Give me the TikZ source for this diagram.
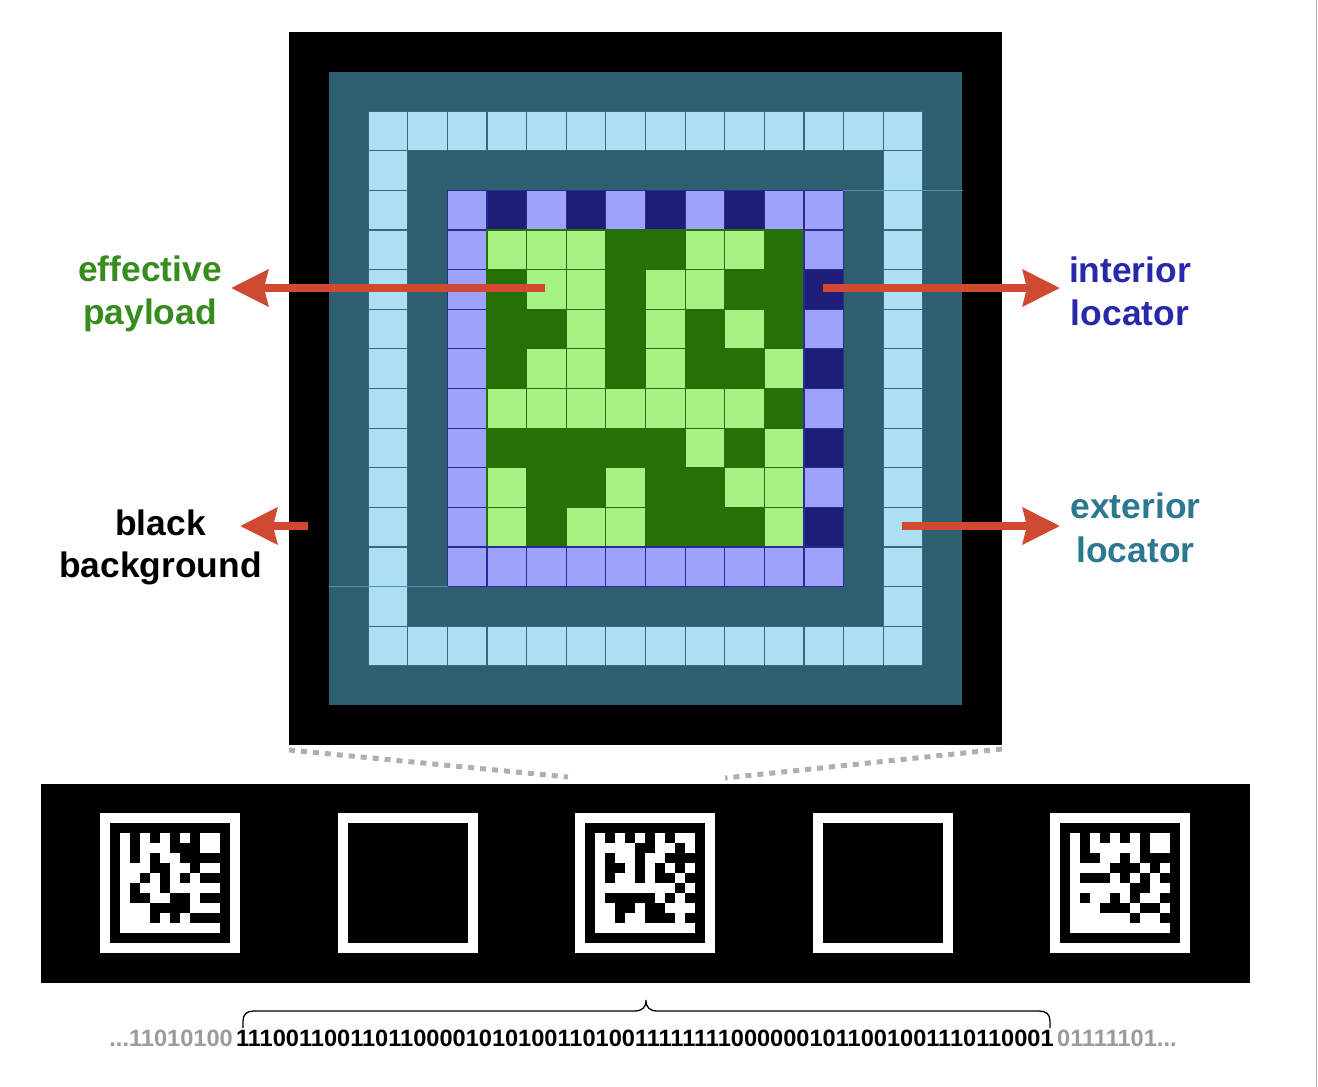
\documentclass[tikz,border=0pt]{standalone}
\usepackage{fontspec}
\setmainfont{Liberation Sans}
\usetikzlibrary{arrows.meta}
\definecolor{lblue}{RGB}{173,223,242}
\definecolor{teal1}{RGB}{45,95,113}
\definecolor{tealedge}{RGB}{58,104,122}
\definecolor{lpurp}{RGB}{158,162,250}
\definecolor{navy1}{RGB}{30,30,120}
\definecolor{purpedge}{RGB}{42,42,150}
\definecolor{lgreen}{RGB}{166,242,133}
\definecolor{dgreen}{RGB}{37,112,7}
\definecolor{arrred}{RGB}{207,74,48}
\definecolor{labgreen}{RGB}{55,140,30}
\definecolor{labblue}{RGB}{40,40,170}
\definecolor{labteal}{RGB}{45,120,145}
\definecolor{bitgray}{RGB}{155,155,155}
\definecolor{dotgray}{RGB}{175,175,175}
\definecolor{artline}{RGB}{80,150,175}
\newcommand\gcell[3]{\draw[#3] ({289+(#1)*39.61},{32+(#2)*39.61}) rectangle ++(39.61,39.61);}
\newcommand\drawmarker[2]{%
  \fill[white] (#1,813) rectangle ++(140,140);
  \fill[black] ({#1+10},823) rectangle ++(120,120);
  \foreach \row [count=\ri from 0] in #2 {
    \foreach \v [count=\ci from 0] in \row {
      \ifnum\v=1 \fill[white] ({#1+20+\ci*10},{833+\ri*10}) rectangle ++(10.3,10.3);\fi
    }
  }
}
\def\mA{{1,0,1,0,1,0,1,0,1,1},{1,0,1,1,1,0,0,0,1,1},{1,0,1,0,1,1,0,0,0,0},{1,1,1,0,0,1,1,0,1,1},{1,1,0,1,0,1,0,1,0,0},{1,0,1,1,0,1,1,1,1,1},{1,0,0,1,1,0,0,1,0,0},{1,1,1,0,0,0,0,1,1,1},{1,1,1,0,1,0,1,0,0,0},{1,1,1,1,1,1,1,1,1,1}}
\def\mB{{1,0,1,0,1,0,1,0,1,1},{1,1,1,1,0,0,1,1,0,1},{1,0,1,1,0,1,1,0,0,0},{1,0,0,1,0,1,0,1,0,1},{1,0,1,1,0,1,0,0,1,0},{1,1,1,1,1,1,1,1,0,1},{1,0,0,0,0,0,1,0,1,0},{1,1,0,0,1,0,0,1,1,1},{1,1,0,1,1,0,0,0,1,0},{1,1,1,1,1,1,1,1,1,1}}
\def\mC{{1,0,1,0,1,0,1,0,1,1},{1,0,1,1,1,1,1,0,1,1},{1,0,0,1,1,0,1,0,0,0},{1,1,1,1,0,0,0,1,0,1},{1,0,0,0,1,0,1,0,1,0},{1,1,1,1,1,1,0,0,1,1},{1,0,1,1,0,1,0,1,1,0},{1,1,1,0,0,0,1,0,0,1},{1,1,1,1,1,1,0,1,1,0},{1,1,1,1,1,1,1,1,1,1}}
\begin{document}
\begin{tikzpicture}[x=1pt,y=-1pt,
  lbcell/.style={fill=lblue,draw=tealedge,line width=1.2pt},
  lpcell/.style={fill=lpurp,draw=purpedge,line width=1.2pt},
  nvcell/.style={fill=navy1,draw=purpedge,line width=1.2pt},
  lgcell/.style={fill=lgreen,draw=dgreen,line width=1.2pt},
  dgcell/.style={fill=dgreen,draw=dgreen,line width=1.2pt},
  redarrow/.style={draw=arrred,line width=8pt,-{Stealth[length=37pt,width=36pt,inset=4pt]}},
  lab/.style={font=\fontsize{35.4}{43}\selectfont\bfseries,inner sep=0pt,anchor=base},
  bits/.style={font=\fontsize{23.6}{27}\selectfont\bfseries,inner sep=0pt},
  dotline/.style={draw=dotgray,line width=5pt,dash pattern=on 6pt off 6pt},
  bracepath/.style={draw=black,line width=1.3pt}]
\useasboundingbox (0,0) rectangle (1318,1087);
\fill[white] (0,0) rectangle (1318,1087);
\draw[draw=gray!60,line width=1pt] (1316.5,0) -- (1316.5,1087);
% big grid
\fill[black] (289,32) rectangle ++(713,713);
\fill[teal1] (328.6,71.6) rectangle ++(633.8,633.8);
\foreach \i in {2,...,15} {
  \gcell{\i}{2}{lbcell}
  \gcell{\i}{15}{lbcell}
  \gcell{2}{\i}{lbcell}
  \gcell{15}{\i}{lbcell}
}
\foreach \row [count=\ri from 0] in \mB {
  \foreach \v [count=\ci from 0] in \row {
    \pgfmathtruncatemacro\edg{(\ri==0)+(\ri==9)+(\ci==0)+(\ci==9)}
    \ifnum\edg>0
      \ifnum\v=1 \gcell{\ci+4}{\ri+4}{lpcell}\else\gcell{\ci+4}{\ri+4}{nvcell}\fi
    \else
      \ifnum\v=1 \gcell{\ci+4}{\ri+4}{lgcell}\else\gcell{\ci+4}{\ri+4}{dgcell}\fi
    \fi
  }
}
\draw[artline,line width=1pt] (843,190.5) -- (963,190.5);
\draw[artline,line width=1pt] (329,586) -- (448,586);
% labels
\node[lab,text=labgreen] (eff1) at (150,281) {effective};
\node[lab,text=labgreen] (eff2) at (150,324) {payload};
\node[lab,text=labblue] (int1) at (1130,282) {interior};
\node[lab,text=labblue] (int2) at (1130,325) {locator};
\node[lab,text=black] (blk1) at (160.5,535) {black};
\node[lab,text=black] (blk2) at (160.5,577) {background};
\node[lab,text=labteal] (ext1) at (1135.5,518) {exterior};
\node[lab,text=labteal] (ext2) at (1135.5,562) {locator};
% arrows
\coordinate (effS) at (545,288);
\coordinate (effT) at (231,288);
\coordinate (intS) at (823,288);
\coordinate (intT) at (1060,288);
\coordinate (blkS) at (308,526);
\coordinate (blkT) at (240,526);
\coordinate (extS) at (902,526);
\coordinate (extT) at (1060,526);
\draw[redarrow] (effS) -- (effT);
\draw[redarrow] (intS) -- (intT);
\draw[redarrow] (blkS) -- (blkT);
\draw[redarrow] (extS) -- (extT);
% dotted zoom lines
\coordinate (bigBL) at (289,750);
\coordinate (bigBR) at (1002,749);
\coordinate (zoomL) at (568,777);
\coordinate (zoomR) at (725,778);
\draw[dotline] (bigBL) -- (zoomL);
\draw[dotline] (bigBR) -- (zoomR);
% strip
\fill[black] (41,784) rectangle (1250,983);
\drawmarker{100}{\mA}
\fill[white] (337.5,813) rectangle ++(140,140);
\fill[black] (347.5,823) rectangle ++(120,120);
\drawmarker{575}{\mB}
\fill[white] (812.5,813) rectangle ++(140,140);
\fill[black] (822.5,823) rectangle ++(120,120);
\drawmarker{1050}{\mC}
% brace
\draw[bracepath] (243,1028) -- (243,1021) .. controls (243,1014) and (247,1011) .. (254,1011) -- (634,1011) .. controls (642,1011) and (646,1008) .. (646,1000) .. controls (646,1008) and (650,1011) .. (658,1011) -- (1039,1011) .. controls (1046,1011) and (1050,1014) .. (1050,1021) -- (1050,1028);
% bits
\node[bits,anchor=base] (bitsmain) at (645,1046) {1110011001101100001010100110100111111110000001011001001110110001};
\node[bits,anchor=base east,text=bitgray] (bitsl) at (233,1046) {...11010100};
\node[bits,anchor=base west,text=bitgray] (bitsr) at (1057,1046) {01111101...};
\end{tikzpicture}
\end{document}
